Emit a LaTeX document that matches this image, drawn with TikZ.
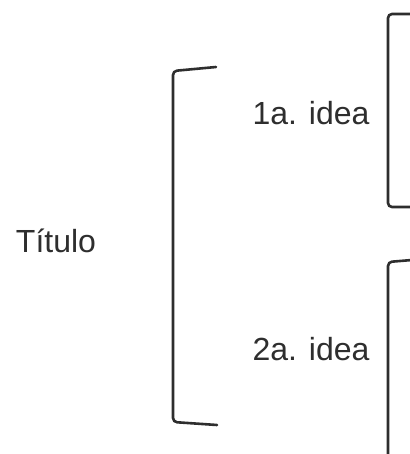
\documentclass[tikz,border=0pt]{standalone}
\usepackage{fontspec}
\setmainfont{Liberation Sans}
\definecolor{ink}{HTML}{2E2E2E}
\tikzset{
  brk/.style={draw=ink, line width=2.6pt, rounded corners=4pt, line cap=round},
  lbl/.style={font=\fontsize{32}{36}\selectfont, text=ink, inner sep=0pt, anchor=base}
}
\begin{document}
\begin{tikzpicture}[x=1pt,y=-1pt]
\useasboundingbox (0,0) rectangle (409,454);
% texts
\node[lbl] (titulo) at (56,252) {Título};
\node[lbl] (idea1) at (311,125) {1a. idea};
\node[lbl] (idea2) at (311,360) {2a. idea};
% big bracket
\draw[brk] (216,67) -- (173,71) -- (173,422) -- (217,425);
% right brackets
\draw[brk] (412,14) -- (388,14) -- (388,207) -- (412,207);
\draw[brk] (412,260) -- (388,262) -- (388,460);
\end{tikzpicture}
\end{document}
